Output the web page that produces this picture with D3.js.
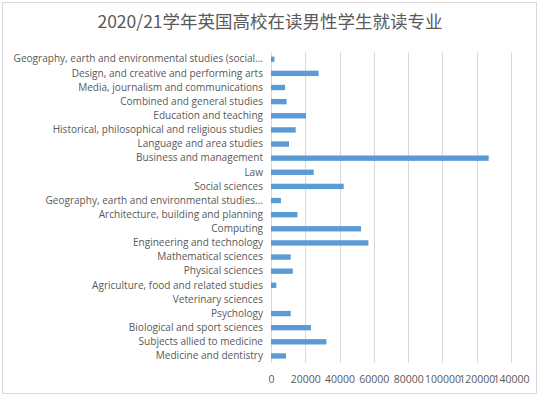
<!DOCTYPE html>
<html><head><meta charset="utf-8">
<script src="https://cdn.jsdelivr.net/npm/d3@7"></script>
<style>body{margin:0;background:#fff}svg{display:block}</style>
</head><body>
<script>
const categories = [
  "Geography, earth and environmental studies (social...",
  "Design, and creative and performing arts",
  "Media, journalism and communications",
  "Combined and general studies",
  "Education and teaching",
  "Historical, philosophical and religious studies",
  "Language and area studies",
  "Business and management",
  "Law",
  "Social sciences",
  "Geography, earth and environmental studies...",
  "Architecture, building and planning",
  "Computing",
  "Engineering and technology",
  "Mathematical sciences",
  "Physical sciences",
  "Agriculture, food and related studies",
  "Veterinary sciences",
  "Psychology",
  "Biological and sport sciences",
  "Subjects allied to medicine",
  "Medicine and dentistry"
];
const values = [2000, 27800, 8200, 9100, 20400, 14400, 10500, 127000, 24900, 42400, 5800, 15400, 52500, 56800, 11500, 12700, 3100, 0, 11500, 23300, 32300, 8750];
const ticks = [0, 20000, 40000, 60000, 80000, 100000, 120000, 140000];
const title = "2020/21学年英国高校在读男性学生就读专业";

const W = 540, H = 398;
const svg = d3.select("body").append("svg").attr("width", W).attr("height", H);
svg.append("rect").attr("x", 2.5).attr("y", 2.5).attr("width", 534).attr("height", 391)
  .attr("fill", "#fff").attr("stroke", "#d9d9d9");

svg.append("text").attr("x", 270).attr("y", 28).attr("text-anchor", "middle")
  .attr("font-family", "'Noto Sans CJK SC', 'Noto Sans', sans-serif").attr("font-size", 17.5)
  .attr("fill", "#595959").text(title);

const x = d3.scaleLinear().domain([0, 140000]).range([271, 511]);
const y = d3.scaleBand().domain(categories).range([52.2, 363]).paddingInner(0.62).paddingOuter(0.31);

// gridlines
svg.append("g").selectAll("line").data(ticks).join("line")
  .attr("x1", d => Math.round(x(d)) + 0.5).attr("x2", d => Math.round(x(d)) + 0.5)
  .attr("y1", 52).attr("y2", 363).attr("stroke", "#d9d9d9").attr("stroke-width", 1);

// bars
svg.append("g").selectAll("rect").data(values).join("rect")
  .attr("x", x(0)).attr("y", (d, i) => y(categories[i]))
  .attr("width", d => x(d) - x(0)).attr("height", y.bandwidth())
  .attr("fill", "#5b9bd5");

// category labels
const yAxis = d3.axisLeft(y).tickSize(0).tickPadding(8);
const gy = svg.append("g").attr("transform", `translate(${x(0)},0)`).call(yAxis);
gy.select(".domain").remove();
gy.selectAll("text").attr("font-family", "'Open Sans', sans-serif").attr("font-size", 10.05).attr("fill", "#595959");

// x tick labels
const xAxis = d3.axisBottom(x).tickValues(ticks).tickFormat(d3.format("d")).tickSize(0).tickPadding(8);
const gx = svg.append("g").attr("transform", `translate(0,368)`).call(xAxis);
gx.select(".domain").remove();
gx.selectAll("text").attr("font-family", "'Open Sans', sans-serif").attr("font-size", 10.5).attr("fill", "#595959");
</script>
</body></html>
